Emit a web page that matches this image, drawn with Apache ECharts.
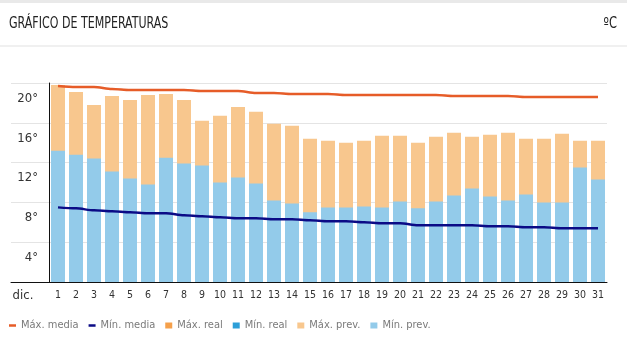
<!DOCTYPE html>
<html>
<head>
<meta charset="utf-8">
<script src="https://cdn.jsdelivr.net/npm/echarts@6/dist/echarts.min.js"></script>
<style>
  html, body { margin: 0; padding: 0; background: #fff; }
  #chart { width: 627px; height: 353px; }
</style>
</head>
<body>
<div id="chart"></div>
<script>
const days = ['1','2','3','4','5','6','7','8','9','10','11','12','13','14','15','16','17','18','19','20','21','22','23','24','25','26','27','28','29','30','31'];
const maxMedia = [19.7,19.6,19.6,19.4,19.3,19.3,19.3,19.3,19.2,19.2,19.2,19.0,19.0,18.9,18.9,18.9,18.8,18.8,18.8,18.8,18.8,18.8,18.7,18.7,18.7,18.7,18.6,18.6,18.6,18.6,18.6];
const minMedia = [7.5,7.4,7.2,7.1,7.0,6.9,6.9,6.7,6.6,6.5,6.4,6.4,6.3,6.3,6.2,6.1,6.1,6.0,5.9,5.9,5.7,5.7,5.7,5.7,5.6,5.6,5.5,5.5,5.4,5.4,5.4];
const maxReal = [];
const minReal = [];
const maxPrev = [19.8,19.1,17.8,18.7,18.3,18.8,18.9,18.3,16.2,16.7,17.6,17.1,15.9,15.7,14.4,14.2,14.0,14.2,14.7,14.7,14.0,14.6,15.0,14.6,14.8,15.0,14.4,14.4,14.9,14.2,14.2];
const minPrev = [13.2,12.8,12.4,11.1,10.4,9.8,12.5,11.9,11.7,10.0,10.5,9.9,8.2,7.9,7.0,7.5,7.5,7.6,7.5,8.1,7.4,8.1,8.7,9.4,8.6,8.2,8.8,8.0,8.0,11.5,10.3];
const yTicks = [0, 4, 8, 12, 16, 20];

const narrow = '"Liberation Sans Narrow", "DejaVu Sans Condensed", Roboto, sans-serif';
const chart = echarts.init(document.getElementById('chart'));

const option = {
  animation: false,
  backgroundColor: '#fff',
  graphic: [
    { type: 'rect', shape: { x: 0, y: 0, width: 627, height: 3 }, style: { fill: '#e9e9e9' }, silent: true },
    { type: 'rect', shape: { x: 0, y: 45.5, width: 627, height: 1 }, style: { fill: '#e2e2e2' }, silent: true },
    { type: 'text', x: 9, y: 24, scaleX: 0.82, silent: true,
      style: { text: 'GRÁFICO DE TEMPERATURAS', font: '15px ' + narrow, fill: '#222', verticalAlign: 'middle' } },
    { type: 'text', x: 617, y: 24, scaleX: 0.85, silent: true,
      style: { text: 'ºC', font: '15px ' + narrow, fill: '#222', align: 'right', verticalAlign: 'middle' } }
  ],
  legend: {
    left: 9, top: 320, padding: 0,
    itemWidth: 7, itemHeight: 6, itemGap: 10,
    textStyle: { fontFamily: narrow, fontSize: 11, color: '#7a7a7a' },
    data: [
      { name: 'Máx. media', icon: 'path://M0,0h7v2.5h-7z' },
      { name: 'Mín. media', icon: 'path://M0,0h7v2.5h-7z' },
      { name: 'Máx. real', icon: 'rect' },
      { name: 'Mín. real', icon: 'rect' },
      { name: 'Máx. prev.', icon: 'rect' },
      { name: 'Mín. prev.', icon: 'rect' }
    ]
  },
  grid: [
    { left: 49, right: 20, top: 83, bottom: 71 },
    { left: 11, width: 38, top: 83, bottom: 71 }
  ],
  xAxis: [
    {
      type: 'category', data: days, gridIndex: 0,
      axisLine: { lineStyle: { color: '#111', width: 1 } },
      axisTick: { show: false },
      axisLabel: { fontFamily: narrow, fontSize: 10.5, color: '#333', margin: 8, interval: 0 }
    },
    {
      type: 'category', data: ['dic.'], gridIndex: 1,
      axisLine: { lineStyle: { color: '#111', width: 1 } },
      axisTick: { show: false },
      axisLabel: { fontFamily: narrow, fontSize: 13, color: '#333', margin: 7, padding: [0, 14, 0, 0] }
    }
  ],
  yAxis: [
    {
      type: 'value', gridIndex: 0, min: yTicks[0], max: yTicks[yTicks.length - 1], interval: 4,
      axisLine: { show: true, lineStyle: { color: '#111', width: 1 } },
      axisTick: { show: false },
      splitLine: { lineStyle: { color: '#e4e4e4' } },
      axisLabel: {
        fontFamily: narrow, fontSize: 13, color: '#333', margin: 11,
        verticalAlign: 'top', padding: [9, 0, 0, 0],
        formatter: v => (v === 0 ? '' : v + '°')
      }
    },
    {
      type: 'value', gridIndex: 1, min: yTicks[0], max: yTicks[yTicks.length - 1], interval: 4,
      axisLine: { show: false }, axisTick: { show: false }, axisLabel: { show: false },
      splitLine: { lineStyle: { color: '#e4e4e4' } }
    }
  ],
  series: [
    { name: 'Máx. media', type: 'line', data: maxMedia, symbol: 'none', smooth: 0.3, smoothMonotone: 'x',
      color: '#e65c28', lineStyle: { width: 2.5 }, z: 5 },
    { name: 'Mín. media', type: 'line', data: minMedia, symbol: 'none', smooth: 0.3, smoothMonotone: 'x',
      color: '#0b0b86', lineStyle: { width: 2.5 }, z: 5 },
    { name: 'Máx. real', type: 'bar', data: maxReal, color: '#f5a04b', barWidth: 14, barGap: '-100%' },
    { name: 'Mín. real', type: 'bar', data: minReal, color: '#2d9fd8', barWidth: 14, barGap: '-100%' },
    { name: 'Máx. prev.', type: 'bar', data: maxPrev, color: '#f8c78e', barWidth: 14, barGap: '-100%' },
    { name: 'Mín. prev.', type: 'bar', data: minPrev, color: '#93cbea', barWidth: 14, barGap: '-100%' }
  ]
};

chart.setOption(option);
</script>
</body>
</html>
